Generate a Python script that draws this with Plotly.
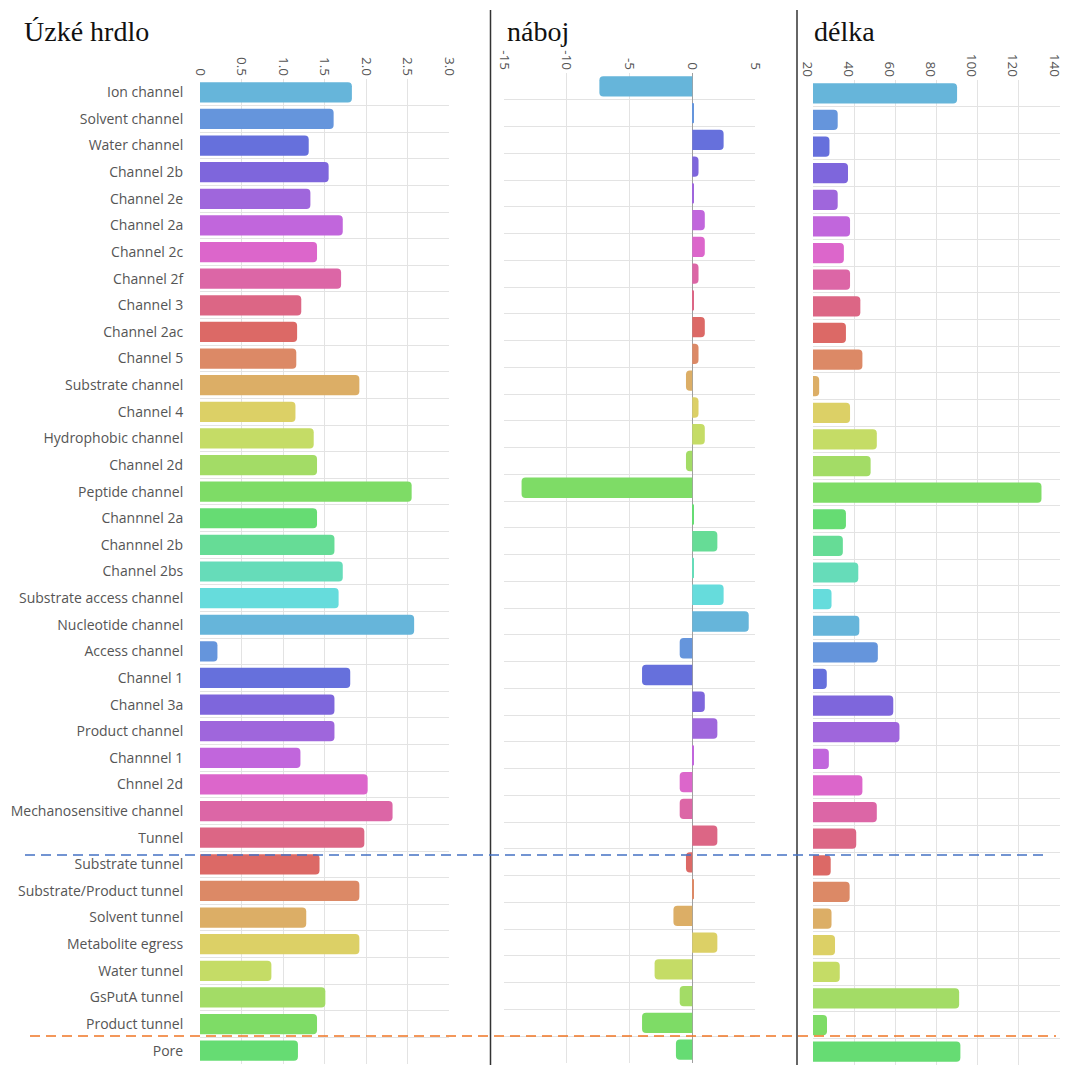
import plotly.graph_objects as go

categories = [
    "Ion channel", "Solvent channel", "Water channel", "Channel 2b", "Channel 2e",
    "Channel 2a", "Channel 2c", "Channel 2f", "Channel 3", "Channel 2ac",
    "Channel 5", "Substrate channel", "Channel 4", "Hydrophobic channel", "Channel 2d",
    "Peptide channel", "Channnel 2a", "Channnel 2b", "Channel 2bs", "Substrate access channel",
    "Nucleotide channel", "Access channel", "Channel 1", "Channel 3a", "Product channel",
    "Channnel 1", "Chnnel 2d", "Mechanosensitive channel", "Tunnel", "Substrate tunnel",
    "Substrate/Product tunnel", "Solvent tunnel", "Metabolite egress", "Water tunnel",
    "GsPutA tunnel", "Product tunnel", "Pore",
]

uzke_hrdlo = [
    1.83, 1.61, 1.31, 1.55, 1.33, 1.72, 1.41, 1.70, 1.22, 1.17,
    1.16, 1.92, 1.15, 1.37, 1.41, 2.55, 1.41, 1.62, 1.72, 1.67,
    2.58, 0.21, 1.81, 1.62, 1.62, 1.21, 2.02, 2.32, 1.98, 1.44,
    1.92, 1.28, 1.92, 0.86, 1.51, 1.41, 1.18,
]

naboj = [
    -7.4, 0.08, 2.5, 0.5, 0.08, 1.0, 1.0, 0.5, 0.08, 1.0,
    0.5, -0.5, 0.5, 1.0, -0.5, -13.6, 0.08, 2.0, 0.08, 2.5,
    4.5, -1.0, -4.0, 1.0, 2.0, 0.08, -1.0, -1.0, 2.0, -0.5,
    0.08, -1.5, 2.0, -3.0, -1.0, -4.0, -1.3,
]

delka = [
    90, 32, 28, 37, 32, 38, 35, 38, 43, 36,
    44, 23, 38, 51, 48, 131, 36, 34.5, 42, 29,
    42.5, 51.5, 26.7, 59, 62, 27.7, 44, 51, 41, 28.6,
    37.8, 29, 30.7, 33, 91, 26.8, 91.6,
]

titles = ["Úzké hrdlo", "náboj", "délka"]

x1_ticks = [0, 0.5, 1.0, 1.5, 2.0, 2.5, 3.0]
x1_labels = ["0", "0.5", "1.0", "1.5", "2.0", "2.5", "3.0"]
x2_ticks = [-15, -10, -5, 0, 5]
x3_ticks = [20, 40, 60, 80, 100, 120, 140]

palette = [
    "#66B5DA", "#6595DC", "#6670DC", "#7E66DC", "#9F66DC",
    "#C166DC", "#DC66CB", "#DC66A6", "#DC6685", "#DC6966",
    "#DC8966", "#DCAE66", "#DCD066", "#C5DC66", "#A3DC66",
    "#7EDC66", "#66DC73", "#66DC96", "#66DCB9", "#66DCDC",
]
colors = [palette[i % len(palette)] for i in range(len(categories))]

# page body has an 8px margin; figure sized so the page does not overflow the window
OFF = 8
FW, FH = 1056, 1057


def px(sx):
    return (sx - OFF) / FW


def py(sy):
    return 1 - (sy - OFF) / FH


idx = list(range(len(categories)))

fig = go.Figure()
series = [uzke_hrdlo, naboj, delka]
for k, vals in enumerate(series):
    sfx = "" if k == 0 else str(k + 1)
    fig.add_trace(go.Bar(
        x=vals, y=idx, orientation="h",
        marker=dict(color=colors, line=dict(width=0)),
        width=0.76,
        xaxis="x" + sfx, yaxis="y" + sfx,
        showlegend=False,
        hovertext=categories,
    ))

grid = "#e3e3e3"
tickfont = dict(family="Open Sans, sans-serif", size=13.5, color="#555555")


def xax(domain, rng, tickvals, ticktext, anchor, zeroline=False, shift=0):
    return dict(
        domain=domain, range=rng, side="top", anchor=anchor, automargin=False,
        tickmode="array", tickvals=tickvals, ticktext=ticktext, ticklabeloverflow="allow",
        ticklabelshift=shift,
        tickangle=90, tickfont=tickfont, showgrid=True, gridcolor=grid, gridwidth=1,
        zeroline=zeroline, zerolinecolor="#a0a0a0", zerolinewidth=1.2,
        showline=False, ticks="", fixedrange=True,
    )


def yax(anchor, show_labels, top, bot):
    return dict(
        domain=[max(0, py(bot)), py(top)], range=[len(categories) - 0.5, -0.5], anchor=anchor,
        automargin=False,
        tickmode="array", tickvals=idx, ticktext=categories if show_labels else None,
        showticklabels=show_labels,
        tickfont=dict(family="Open Sans, sans-serif", size=14, color="#555555"),
        ticks="outside" if show_labels else "", ticklen=13, tickcolor="rgba(0,0,0,0)",
        showgrid=False, zeroline=False, showline=False,
        minor=dict(tickmode="array", tickvals=[i - 0.5 for i in idx], showgrid=True,
                   gridcolor=grid, gridwidth=1, ticks=""),
    )


fig.update_layout(
    width=FW, height=FH,
    margin=dict(l=0, r=0, t=0, b=0),
    paper_bgcolor="white", plot_bgcolor="white",
    barcornerradius=4,
    xaxis=xax([px(200), px(449)], [0, 3.0], x1_ticks, x1_labels, "y"),
    xaxis2=xax([px(504), px(755)], [-15, 5], x2_ticks, [str(v) for v in x2_ticks], "y2", zeroline=True),
    xaxis3=xax([px(813), px(1060)], [20, 140], x3_ticks, [str(v) for v in x3_ticks], "y3", shift=-6),
    yaxis=yax("x", True, 79, 1064),
    yaxis2=yax("x2", False, 73, 1063),
    yaxis3=yax("x3", False, 80, 1065),
)

title_x = [22, 505, 812]
for t, xp in zip(titles, title_x):
    fig.add_annotation(
        text=t, x=px(xp), y=py(31), xref="paper", yref="paper",
        xanchor="left", yanchor="middle", showarrow=False,
        font=dict(family="Liberation Serif, Times New Roman, serif", size=28, color="#111111"),
    )

# vertical separators
for xp in [490.5, 797]:
    fig.add_shape(type="line", xref="paper", yref="paper",
                  x0=px(xp), x1=px(xp), y0=0, y1=py(10),
                  line=dict(color="#333333", width=1.5))

# dashed group separators
fig.add_shape(type="line", xref="paper", yref="paper",
              x0=px(25), x1=px(1048), y0=py(855), y1=py(855),
              line=dict(color="#4472C4", width=1.5, dash="10px,6px"))
fig.add_shape(type="line", xref="paper", yref="paper",
              x0=px(30), x1=px(1056), y0=py(1036), y1=py(1036),
              line=dict(color="#F07525", width=1.5, dash="10px,6px"))

fig.write_html("out.html")
